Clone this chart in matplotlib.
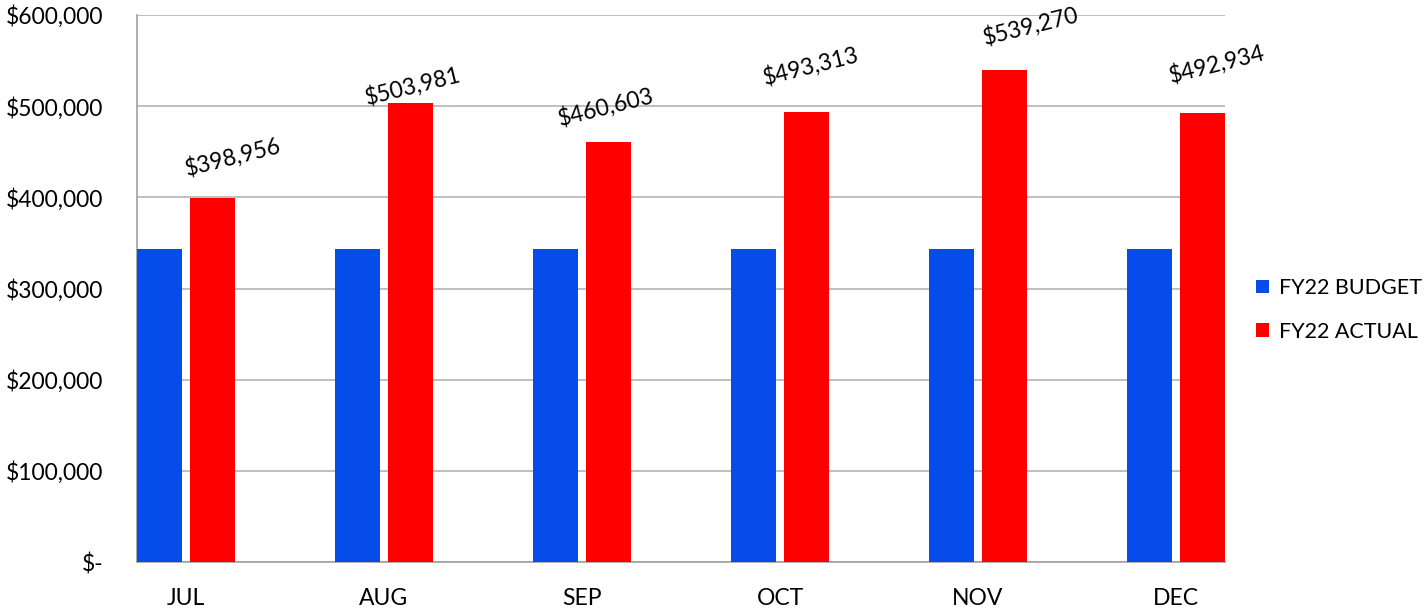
import matplotlib
matplotlib.use('Agg')
import matplotlib.pyplot as plt
import numpy as np
from matplotlib.ticker import FuncFormatter

months = ['JUL', 'AUG', 'SEP', 'OCT', 'NOV', 'DEC']
budget = [343000, 343000, 343000, 343000, 343000, 343000]
actual = [398956, 503981, 460603, 493313, 539270, 492934]

# label nudges (points), the source chart places them a bit unevenly
label_dx = [15, 2, -2, 3, 19, 10]
label_dy = [30, 12, 25, 33, 32, 35]

blue = '#054CEB'
red = '#FF0000'
grid = '#B4B4B4'

plt.rcParams['font.family'] = ['Lato', 'DejaVu Sans']
fs = 16.5

fig = plt.figure(figsize=(14.25, 6.08), dpi=100)
ax = fig.add_axes([137 / 1425, 46 / 608, 1088 / 1425, 547 / 608])

x = np.arange(len(months))
w = 0.227
off = 0.134
b1 = ax.bar(x - off, budget, w, color=blue, label='FY22 BUDGET', zorder=3)
b2 = ax.bar(x + off, actual, w, color=red, label='FY22 ACTUAL', zorder=3)

for i, v in enumerate(actual):
    ax.annotate(f'${v:,.0f}', (x[i] + off, v), xytext=(label_dx[i], label_dy[i]),
                textcoords='offset points', ha='center', va='center',
                rotation=14, fontsize=fs, color='black')

ax.set_xlim(-0.247, len(months) - 1 + 0.247)
ax.set_ylim(0, 600000)
ax.set_yticks(np.arange(0, 600001, 100000))
ax.yaxis.set_major_formatter(FuncFormatter(lambda v, p: '$-' if v == 0 else f'${v:,.0f}'))
ax.set_xticks(x)
ax.set_xticklabels(months)
ax.tick_params(axis='both', length=0, labelsize=fs)
ax.tick_params(axis='y', pad=24)
ax.tick_params(axis='x', pad=19)

ax.grid(axis='y', color=grid, linewidth=1.2, zorder=0)
for s in ['top', 'right']:
    ax.spines[s].set_visible(False)
ax.spines['left'].set_color('#A0A0A0')
ax.spines['bottom'].set_color('#A0A0A0')
ax.spines['left'].set_linewidth(1.2)
ax.spines['bottom'].set_linewidth(1.2)

fig.legend(handles=[b1, b2], loc='center left', bbox_to_anchor=(1256 / 1425, 1 - 310 / 608),
           frameon=False, fontsize=15.5, handlelength=0.6, handleheight=0.6,
           handletextpad=0.45, labelspacing=1.1, borderpad=0, borderaxespad=0)

fig.savefig('out.png', dpi=100)
